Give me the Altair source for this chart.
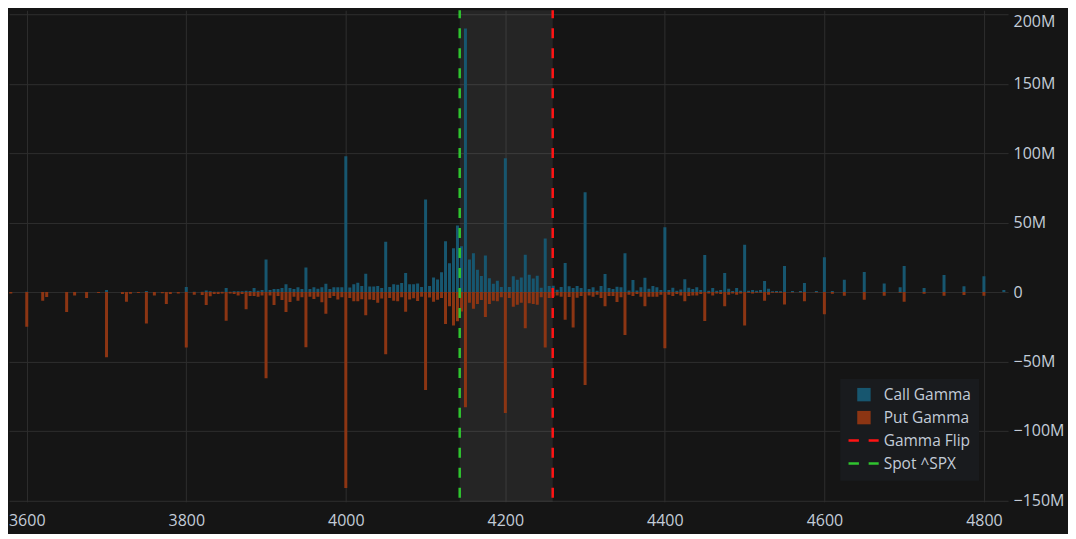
import altair as alt
import pandas as pd

# ---- data (values in millions) ----
strikes = [3575, 3580, 3600, 3620, 3625, 3650, 3660, 3675, 3690, 3700, 3720, 3725, 3730, 3740, 3750,
           3760, 3770, 3775, 3780, 3790, 3800, 3810, 3820, 3825, 3830, 3835, 3840, 3845, 3850, 3855,
           3860, 3865, 3870, 3875, 3880, 3885, 3890, 3895, 3900, 3905, 3910, 3915, 3920, 3925, 3930,
           3935, 3940, 3945, 3950, 3955, 3960, 3965, 3970, 3975, 3980, 3985, 3990, 3995, 4000, 4005,
           4010, 4015, 4020, 4025, 4030, 4035, 4040, 4045, 4050, 4055, 4060, 4065, 4070, 4075, 4080,
           4085, 4090, 4095, 4100, 4105, 4110, 4115, 4120, 4125, 4130, 4135, 4140, 4145, 4150, 4155,
           4160, 4165, 4170, 4175, 4180, 4185, 4190, 4195, 4200, 4205, 4210, 4215, 4220, 4225, 4230,
           4235, 4240, 4245, 4250, 4255, 4260, 4265, 4270, 4275, 4280, 4285, 4290, 4295, 4300, 4305,
           4310, 4315, 4320, 4325, 4330, 4335, 4340, 4345, 4350, 4355, 4360, 4365, 4370, 4375, 4380,
           4385, 4390, 4395, 4400, 4405, 4410, 4415, 4420, 4425, 4430, 4435, 4440, 4445, 4450, 4455,
           4460, 4465, 4470, 4475, 4480, 4485, 4490, 4495, 4500, 4505, 4510, 4515, 4520, 4525, 4530,
           4535, 4540, 4545, 4550, 4560, 4570, 4575, 4590, 4600, 4610, 4625, 4650, 4675, 4695, 4700,
           4725, 4750, 4775, 4800, 4825]

call_gamma = [0.0, 0.0, 0.3, 0.0, 0.0, 0.0, 0.0, 0.0, 0.0, 1.4, 0.0, 0.0, 0.0, 0.0, 0.7,
              0.0, 0.0, 0.0, 0.0, 0.0, 3.6, 0.3, 0.3, 1.2, 0.5, 0.3, 0.3, 0.3, 2.9, 0.3,
              0.5, 0.5, 0.5, 1.0, 0.7, 2.9, 1.0, 1.4, 23.5, 1.4, 2.2, 2.2, 2.9, 5.6, 2.9,
              2.2, 3.4, 2.2, 17.7, 2.2, 3.4, 2.4, 3.4, 5.9, 2.2, 3.4, 3.4, 3.4, 97.7, 3.3,
              5.6, 6.7, 4.3, 13.1, 4.0, 4.0, 4.3, 3.0, 36.2, 3.6, 5.7, 5.3, 6.5, 13.7, 5.7,
              5.7, 6.2, 3.6, 66.7, 4.4, 10.5, 9.1, 14.2, 36.6, 20.8, 31.6, 48.0, 33.0, 189.7, 23.5,
              28.0, 16.0, 11.5, 26.3, 10.0, 6.0, 8.1, 3.6, 96.3, 3.6, 11.3, 8.9, 10.5, 26.8, 12.5,
              9.8, 11.7, 3.1, 38.6, 4.4, 4.5, 1.6, 3.6, 21.0, 4.1, 2.9, 4.3, 2.9, 71.8, 2.2,
              3.4, 1.0, 4.3, 13.0, 2.9, 2.2, 3.8, 3.4, 28.0, 1.2, 8.6, 1.2, 3.4, 10.3, 2.4,
              4.3, 3.4, 1.4, 46.7, 1.4, 3.1, 1.0, 1.9, 9.3, 3.1, 2.2, 3.4, 1.4, 26.6, 1.0,
              2.9, 1.0, 1.4, 13.7, 2.4, 0.7, 2.9, 1.0, 34.0, 1.0, 1.4, 1.0, 1.4, 7.9, 2.4,
              0.5, 0.7, 0.5, 18.7, 0.7, 0.7, 6.5, 0.7, 25.0, 0.7, 8.9, 14.4, 6.2, 3.4, 18.7,
              2.9, 12.2, 4.1, 11.3, 1.4]

put_gamma = [-2.5, -1.0, -25.0, -6.2, -3.6, -14.4, -2.4, -4.3, -0.7, -47.0, -1.4, -7.0, -1.2, -0.7, -22.7,
             -2.4, -0.8, -8.6, -1.4, -1.0, -40.0, -2.0, -2.2, -9.3, -3.1, -1.4, -1.4, -1.0, -20.6, -1.0,
             -1.4, -2.4, -1.4, -12.4, -2.9, -2.9, -3.4, -2.4, -62.0, -2.4, -9.3, -2.9, -5.7, -14.4, -7.2,
             -3.4, -6.2, -3.8, -39.8, -3.4, -5.0, -3.4, -7.4, -15.7, -4.3, -2.9, -5.3, -3.8, -141.0, -4.3,
             -6.7, -6.7, -5.2, -16.7, -5.3, -5.7, -7.7, -4.7, -44.8, -4.3, -6.2, -6.7, -3.8, -14.2, -5.4,
             -4.5, -6.4, -3.3, -70.5, -4.0, -6.9, -5.6, -4.2, -23.0, -10.3, -24.0, -21.0, -14.0, -83.0, -7.7,
             -12.0, -8.6, -5.7, -18.0, -8.6, -6.2, -6.7, -3.8, -87.0, -4.3, -10.5, -9.1, -7.7, -26.0, -8.1,
             -8.6, -9.1, -3.8, -40.0, -4.3, -3.4, -2.4, -3.4, -20.0, -3.6, -25.5, -4.1, -2.9, -67.0, -2.4,
             -3.4, -1.9, -4.3, -10.3, -2.9, -2.9, -7.2, -3.8, -31.0, -1.9, -2.9, -1.4, -3.4, -10.3, -3.4,
             -3.4, -3.4, -1.9, -40.5, -1.9, -2.9, -1.4, -2.4, -6.7, -2.9, -2.4, -2.4, -1.4, -20.8, -1.0,
             -2.4, -1.0, -1.4, -10.3, -1.9, -1.0, -1.9, -1.0, -24.0, -0.5, -1.0, -0.5, -0.5, -6.2, -1.9,
             -0.5, -0.5, -0.5, -8.9, -0.3, -0.3, -6.7, -0.3, -16.0, -1.2, -2.7, -5.5, -2.6, -0.5, -7.0,
             -1.2, -2.6, -2.2, -2.6, 0.0]

spot_price = 4142.8
gamma_flip = 4259.4

series_names = ["Call Gamma", "Put Gamma", "Gamma Flip", "Spot ^SPX"]
series_colors = ["#17566f", "#8c3513", "#ff1414", "#2fc42f"]

x_ticks = [3600, 3800, 4000, 4200, 4400, 4600, 4800]
y_ticks = [-150e6, -100e6, -50e6, 0, 50e6, 100e6, 150e6, 200e6]

# ---- tables ----
bars = pd.concat([
    pd.DataFrame({"strike": strikes, "value": [v * 1e6 for v in call_gamma], "series": "Call Gamma"}),
    pd.DataFrame({"strike": strikes, "value": [v * 1e6 for v in put_gamma], "series": "Put Gamma"}),
], ignore_index=True)

lines = pd.DataFrame({"x": [gamma_flip, spot_price], "series": ["Gamma Flip", "Spot ^SPX"]})
band = pd.DataFrame({"x": [spot_price], "x2": [gamma_flip]})

FONT = "Open Sans"
LABEL = "#c3ccd8"
GRID = "#2e2e2e"

# legend symbol for the dashed lines: two short filled dashes ("— —")
DASH_PATH = "M-2.3,-0.19H-0.75V0.19H-2.3Z M0.7,-0.19H2.2V0.19H0.7Z"
series_shapes = ["square", "square", DASH_PATH, DASH_PATH]


def build(conditional_offset):
    legend = alt.Legend(
        title=None,
        orient="none",
        legendX=832,
        legendY=369,
        fillColor="#191b1e",
        padding=8,
        symbolOffset=8,
        symbolSize=180,
        symbolOpacity=1,
        symbolStrokeWidth=0,
        labelOffset=12,
        rowPadding=6,
        labelFont=FONT,
        labelFontSize=15.5,
        labelColor=LABEL,
    )

    color = alt.Color("series:N", scale=alt.Scale(domain=series_names, range=series_colors), legend=legend)
    shape = alt.Shape("series:N", scale=alt.Scale(domain=series_names, range=series_shapes), legend=legend)

    xscale = alt.Scale(domain=[3584, 4824], nice=False, zero=False)
    yscale = alt.Scale(domain=[-151e6, 202.9e6], nice=False, zero=False)

    xaxis = alt.Axis(values=x_ticks, format="d", title=None, grid=True, gridColor=GRID, domain=False,
                     ticks=False, labelFont=FONT, labelFontSize=16, labelColor=LABEL, labelPadding=11)
    y_kw = dict(values=y_ticks, labelExpr="format(datum.value, '~s')", title=None, orient="right",
                grid=True, gridColor=GRID, domain=False, ticks=False, labelFont=FONT,
                labelFontSize=16, labelColor=LABEL, labelPadding=5)
    if conditional_offset:
        y_kw["labelOffset"] = {"condition": {"test": "datum.value >= 199000000", "value": 7}, "value": 0}
    yaxis = alt.Axis(**y_kw)

    band_layer = alt.Chart(band).mark_rect(color="white", opacity=0.07).encode(
        x=alt.X("x:Q", scale=xscale, axis=xaxis),
        x2="x2:Q",
    )

    bar_layer = alt.Chart(bars).mark_bar(size=3, clip=True).encode(
        x=alt.X("strike:Q", scale=xscale, axis=xaxis),
        y=alt.Y("value:Q", scale=yscale, axis=yaxis),
        color=color,
    )

    # invisible points that carry the legend shapes for the two dashed lines
    legend_layer = alt.Chart(lines).mark_point(filled=True, opacity=0).encode(
        x=alt.X("x:Q", scale=xscale),
        color=color,
        shape=shape,
    )

    flip_layer = alt.Chart(lines).transform_filter(alt.datum.series == "Gamma Flip").mark_rule(
        strokeDash=[10, 10], strokeWidth=2.5, strokeDashOffset=2, color=series_colors[2]
    ).encode(x=alt.X("x:Q", scale=xscale))

    spot_layer = alt.Chart(lines).transform_filter(alt.datum.series == "Spot ^SPX").mark_rule(
        strokeDash=[10, 10], strokeWidth=2.5, strokeDashOffset=2, color=series_colors[3]
    ).encode(x=alt.X("x:Q", scale=xscale))

    ch = alt.layer(band_layer, bar_layer, legend_layer, flip_layer, spot_layer).properties(
        width=1000,
        height=492,
        background="#151515",
        padding={"left": 0, "top": 0, "right": 4, "bottom": 5},
    ).configure_view(stroke=None)
    ch.to_dict()
    return ch


try:
    chart = build(True)
except Exception:
    chart = build(False)

chart.save("out.html", embed_options={"renderer": "svg", "actions": False})
